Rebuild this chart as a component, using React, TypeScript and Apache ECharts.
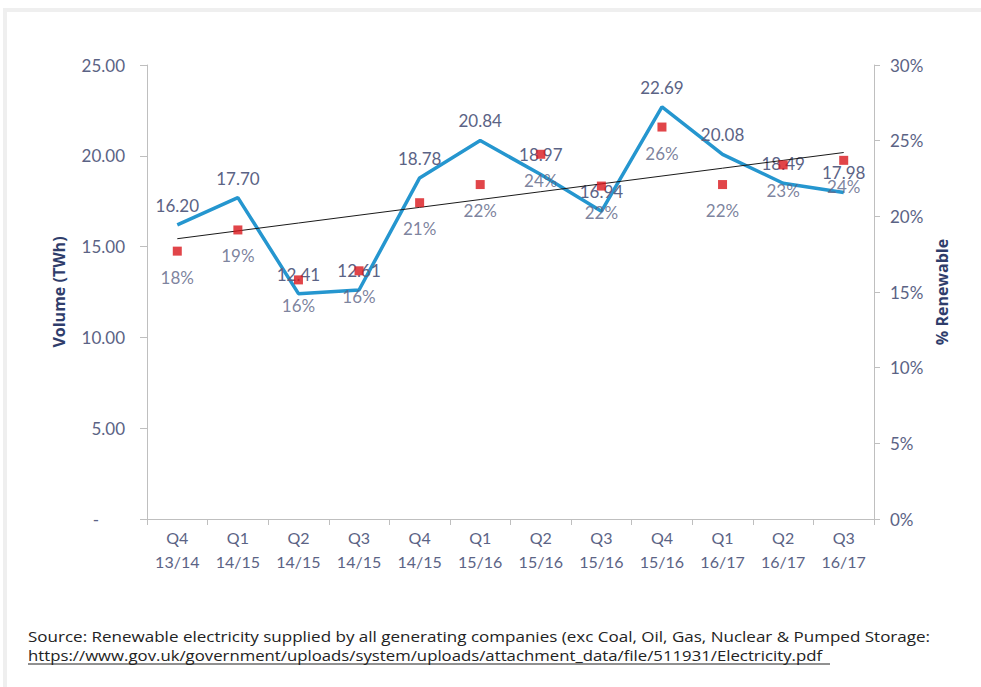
import React, { useEffect, useRef } from "react";
import * as echarts from "echarts";

const categories = [
  "Q4\n13/14", "Q1\n14/15", "Q2\n14/15", "Q3\n14/15", "Q4\n14/15", "Q1\n15/16",
  "Q2\n15/16", "Q3\n15/16", "Q4\n15/16", "Q1\n16/17", "Q2\n16/17", "Q3\n16/17",
];
const volumeTWh = [16.2, 17.7, 12.41, 12.61, 18.78, 20.84, 18.97, 16.94, 22.69, 20.08, 18.49, 17.98];
const renewablePct = [17.7, 19.1, 15.8, 16.4, 20.9, 22.1, 24.1, 22.0, 25.9, 22.1, 23.4, 23.7];

const sourceLine1 =
  "Source: Renewable electricity supplied by all generating companies (exc Coal, Oil, Gas, Nuclear & Pumped Storage:";
const sourceLine2 =
  "https://www.gov.uk/government/uploads/system/uploads/attachment_data/file/511931/Electricity.pdf";

// linear trendline (least squares) of the volume series
function trend(values: number[]): number[] {
  const n = values.length;
  const xm = (n - 1) / 2;
  const ym = values.reduce((a, b) => a + b, 0) / n;
  let sxy = 0;
  let sxx = 0;
  values.forEach((v, i) => {
    sxy += (i - xm) * (v - ym);
    sxx += (i - xm) * (i - xm);
  });
  const b = sxy / sxx;
  return values.map((_, i) => ym + b * (i - xm));
}

const FONT = "Lato";
const TFONT = "Open Sans";
const TXT = "#5b6385";
const NAVY = "#2f3d6b";

export default function App() {
  const ref = useRef<HTMLDivElement>(null);
  useEffect(() => {
    if (!ref.current) return;
    const chart = echarts.init(ref.current, null, { renderer: "svg" });
    chart.setOption({
      animation: false,
      textStyle: { fontFamily: FONT },
      grid: { left: 147, right: 107, top: 65, bottom: 168 },
      xAxis: {
        type: "category",
        data: categories,
        boundaryGap: true,
        axisLine: { lineStyle: { color: "#bfbfbf" } },
        axisTick: { show: true, length: 6, lineStyle: { color: "#bfbfbf" } },
        axisLabel: { color: TXT, fontSize: 16, lineHeight: 24, margin: 6, fontFamily: FONT },
      },
      yAxis: [
        {
          type: "value",
          min: 0,
          max: 25,
          interval: 5,
          name: "Volume (TWh)",
          nameLocation: "middle",
          nameRotate: 90,
          nameGap: 80,
          nameTextStyle: { color: NAVY, fontWeight: "bold", fontSize: 16, fontFamily: TFONT },
          axisLine: { show: true, lineStyle: { color: "#bfbfbf" } },
          axisTick: { show: true, length: 7, lineStyle: { color: "#bfbfbf" } },
          splitLine: { show: false },
          axisLabel: {
            color: TXT,
            fontSize: 17,
            margin: 22,
            fontFamily: FONT,
            formatter: (v: number) => (v === 0 ? "{d|-}" : v.toFixed(2)),
            rich: { d: { color: TXT, fontSize: 17, padding: [0, 26, 0, 0], fontFamily: FONT } },
          },
        },
        {
          type: "value",
          min: 0,
          max: 30,
          interval: 5,
          position: "right",
          name: "% Renewable",
          nameLocation: "middle",
          nameRotate: 90,
          nameGap: 60,
          nameTextStyle: { color: NAVY, fontWeight: "bold", fontSize: 16, fontFamily: TFONT },
          axisLine: { show: true, lineStyle: { color: "#bfbfbf" } },
          axisTick: { show: true, length: 6, lineStyle: { color: "#bfbfbf" } },
          splitLine: { show: false },
          axisLabel: { color: TXT, fontSize: 17, margin: 16, fontFamily: FONT, formatter: "{value}%" },
        },
      ],
      series: [
        {
          name: "Volume",
          type: "line",
          yAxisIndex: 0,
          data: volumeTWh,
          symbol: "circle",
          symbolSize: 0.1,
          showSymbol: true,
          lineStyle: { color: "#2596cf", width: 3.5 },
          itemStyle: { color: "#2596cf" },
          label: {
            show: true,
            position: "top",
            distance: 11,
            color: TXT,
            fontSize: 17,
            fontFamily: FONT,
            formatter: (p: any) => Number(p.value).toFixed(2),
          },
          z: 2,
        },
        {
          name: "Trend",
          type: "line",
          yAxisIndex: 0,
          data: trend(volumeTWh),
          symbol: "none",
          silent: true,
          lineStyle: { color: "#1a1a1a", width: 1 },
          z: 3,
        },
        {
          name: "% Renewable",
          type: "scatter",
          yAxisIndex: 1,
          data: renewablePct,
          symbol: "rect",
          symbolSize: 9,
          itemStyle: { color: "#d9161c" },
          label: {
            show: true,
            position: "bottom",
            distance: 13,
            color: TXT,
            fontSize: 17,
            fontFamily: FONT,
            formatter: (p: any) => Math.round(Number(p.value)) + "%",
          },
          z: 4,
        },
      ],
      graphic: [
        {
          type: "rect",
          shape: { x: 5, y: 10, width: 1000, height: 700 },
          style: { fill: "none", stroke: "#efefef", lineWidth: 4 },
          silent: true,
        },
        {
          type: "text",
          x: 28,
          y: 636,
          scaleX: 1.135,
          style: { text: sourceLine1, fill: "#222222", fontSize: 15, fontFamily: TFONT, verticalAlign: "middle" },
        },
        {
          type: "text",
          x: 28,
          y: 655,
          scaleX: 1.118,
          style: { text: sourceLine2, fill: "#222222", fontSize: 15, fontFamily: TFONT, verticalAlign: "middle" },
        },
        {
          type: "line",
          shape: { x1: 28, y1: 664, x2: 830, y2: 664 },
          style: { stroke: "#222222", lineWidth: 1 },
        },
      ],
    });
    return () => chart.dispose();
  }, []);
  return (
    <div
      ref={ref}
      style={{ position: "absolute", left: 0, top: 0, width: 981, height: 687 }}
    />
  );
}
